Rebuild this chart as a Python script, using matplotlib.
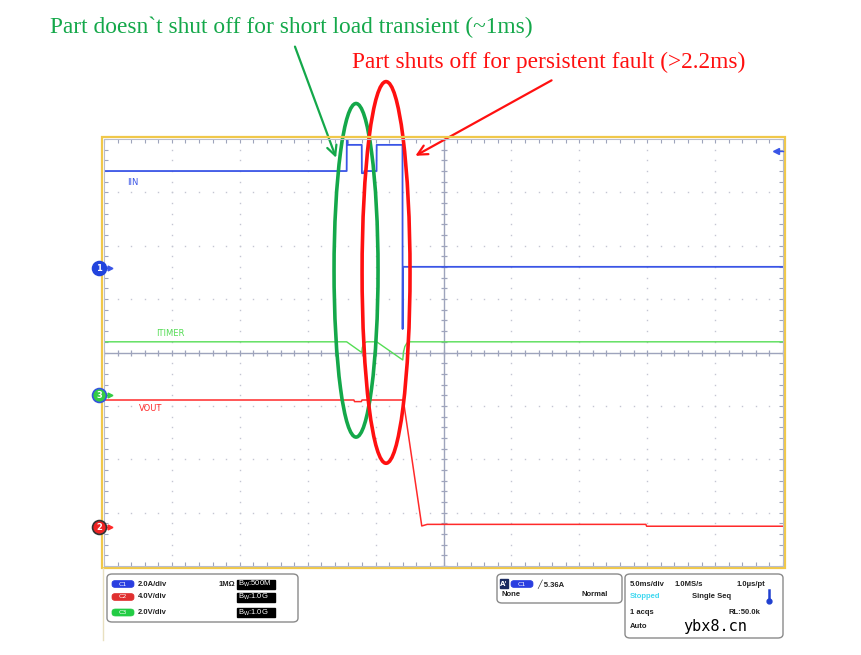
import numpy as np
import matplotlib
matplotlib.use("Agg")
import matplotlib.pyplot as plt
from matplotlib.patches import Ellipse, FancyBboxPatch, Rectangle
import matplotlib.transforms as mtrans

# scope traces (time in ms, 5 ms/div, screen centre = 0)
t_iin = [-25, -7.13, -7.12, -7.05, -6.95, -6.02, -6.01, -5.85, -5.83, -4.93, -4.92, -3.02, -3.01, -2.99, 25]
iin = [3.64, 3.64, 4.80, 4.62, 4.62, 4.62, 3.56, 3.56, 3.64, 3.64, 4.62, 4.62, -2.28, 0.05, 0.05]

t_timer = [-25, -7.13, -6.02, -5.98, -5.9, -5.8, -5.65, -4.92, -3.0, -2.95, -2.85, -2.7, -2.5, 25]
itimer = [2.0, 2.0, 1.6, 1.78, 1.9, 1.97, 2.0, 2.0, 1.32, 1.6, 1.82, 1.95, 2.0, 2.0]

t_vout = [-25, -6.6, -6.55, -6.05, -6.0, -2.96, -1.6, -1.2, 14.9, 14.96, 25]
vout = [9.52, 9.52, 9.4, 9.4, 9.52, 9.52, 0.08, 0.2, 0.2, 0.06, 0.06]

# channel settings: (units per div, zero position in div)
ch1 = (2.0, 1.58)   # IIN, A
ch2 = (4.0, -3.27)  # VOUT, V
ch3 = (2.0, -0.80)  # ITIMER, V

W, H = 861, 655
def fx(p):
    return p / W
def fy(p):
    return 1 - p / H

fig = plt.figure(figsize=(8.61, 6.55), dpi=100)
fig.patch.set_facecolor("white")
ax = fig.add_axes([fx(104), fy(566), (783 - 104) / W, (566 - 139) / H])
ax.set_xlim(-25, 25)
ax.set_ylim(-4, 4)
for s in ax.spines.values():
    s.set_visible(False)

gcol = "#c4c6d2"
ax.set_xticks(np.arange(-25, 26, 5))
ax.set_xticks(np.arange(-25, 26, 1), minor=True)
ax.set_yticks(np.arange(-4, 5, 1))
ax.set_yticks(np.arange(-4, 4.01, 0.2), minor=True)
ax.tick_params(which="both", direction="in", top=True, right=True, length=3,
               color="#9ea4bc", width=0.8, labelbottom=False, labelleft=False)

# dotted graticule
for xv in range(-20, 25, 5):
    if xv == 0:
        continue
    yy = np.arange(-4, 4.01, 0.2)
    ax.plot(np.full_like(yy, xv), yy, ls="none", marker="s", ms=1.0, color=gcol, mew=0)
for yv in range(-3, 4):
    if yv == 0:
        continue
    xx = np.arange(-25, 25.01, 1)
    ax.plot(xx, np.full_like(xx, yv), ls="none", marker="s", ms=1.0, color=gcol, mew=0)

# centre cross with minor ticks
ccol = "#9ea4bc"
ax.axhline(0, color=ccol, lw=1.0, zorder=1)
ax.axvline(0, color=ccol, lw=1.0, zorder=1)
xx = np.arange(-25, 25.01, 1)
ax.plot(xx, np.zeros_like(xx), ls="none", marker="|", ms=5, color=ccol, mew=0.9)
yy = np.arange(-4, 4.01, 0.2)
ax.plot(np.zeros_like(yy), yy, ls="none", marker="_", ms=5, color=ccol, mew=0.9)

# frame
fig.add_artist(Rectangle((fx(102), fy(568)), (785 - 102) / W, (568 - 137) / H,
                         transform=fig.transFigure, fill=False, ec="#f0c84a", lw=1.6))
fig.add_artist(Rectangle((fx(104), fy(566)), (783 - 104) / W, (566 - 139) / H,
                         transform=fig.transFigure, fill=False, ec="#b8bccc", lw=0.8))

# traces
blue, red, green = "#3a55e6", "#ff2a2a", "#55dd55"
ax.plot(t_iin, ch1[1] + np.array(iin) / ch1[0], color=blue, lw=1.3, zorder=4)
ax.plot(t_timer, ch3[1] + np.array(itimer) / ch3[0], color=green, lw=1.0, zorder=3)
ax.plot(t_vout, ch2[1] + np.array(vout) / ch2[0], color=red, lw=1.1, zorder=3)

ax.text(-22.86, 3.19, "IIN", color=blue, fontsize=6, ha="center", va="center")
ax.text(-20.13, 0.36, "ITIMER", color=green, fontsize=6, ha="center", va="center")
ax.text(-21.6, -1.04, "VOUT", color=red, fontsize=6, ha="center", va="center")

# channel markers on the left edge (drawn above the frame)
bt = mtrans.blended_transform_factory(fig.transFigure, ax.transData)
markers = [("1", ch1[1], "#2244dd", "#2244dd", blue),
           ("3", ch3[1], "#33cc44", "#3355dd", "#33cc44"),
           ("2", ch2[1], "#ee2222", "#333333", red)]
for lab, yv, fc, ec, ac in markers:
    fig.add_artist(plt.Line2D([fx(106), fx(110)], [yv, yv], color=ac, lw=1,
                              transform=bt, zorder=4))
    fig.add_artist(plt.Line2D([fx(110)], [yv], marker=">", ms=3.5, color=ac,
                              transform=bt, zorder=4))
    fig.add_artist(plt.Line2D([fx(99)], [yv], marker="o", ms=10, mfc=fc, mec=ec, mew=1.2,
                              transform=bt, zorder=5))
    fig.text(fx(99), yv, lab, color="white", fontsize=6, fontweight="bold",
             ha="center", va="center", transform=bt, zorder=6)

# trigger level marker
fig.add_artist(plt.Line2D([fx(775), fx(783)], [fy(151), fy(151)], color=blue, lw=1))
fig.add_artist(plt.Line2D([fx(776)], [fy(151)], marker="<", ms=4, color=blue))

# annotations
ax.add_patch(Ellipse((-6.44, 1.54), 3.24, 6.25, fill=False, ec="#14a84a", lw=2.6,
                     clip_on=False, zorder=8))
ax.add_patch(Ellipse((-4.23, 1.50), 3.53, 7.15, fill=False, ec="#ff1010", lw=2.6,
                     clip_on=False, zorder=8))
fig.text(fx(50), fy(27), "Part doesn`t shut off for short load transient (~1ms)",
         color="#14a84a", fontsize=16.8, family="Liberation Serif", ha="left", va="center")
fig.text(fx(352), fy(62), "Part shuts off for persistent fault (>2.2ms)",
         color="#ff1010", fontsize=16.8, family="Liberation Serif", ha="left", va="center")
ax.annotate("", xy=(-7.84, 3.60), xycoords="data", xytext=(fx(294), fy(44)),
            textcoords="figure fraction",
            arrowprops=dict(arrowstyle="->,head_length=0.7,head_width=0.35",
                            color="#14a84a", lw=1.6), zorder=9, annotation_clip=False)
ax.annotate("", xy=(-2.25, 3.66), xycoords="data", xytext=(fx(554), fy(79)),
            textcoords="figure fraction",
            arrowprops=dict(arrowstyle="->,head_length=0.7,head_width=0.35",
                            color="#ff1010", lw=1.6), zorder=9, annotation_clip=False)

# bottom status panels
def panel(x0, y0, x1, y1):
    fig.add_artist(FancyBboxPatch((fx(x0), fy(y1)), (x1 - x0) / W, (y1 - y0) / H,
                                  boxstyle="round,pad=0,rounding_size=0.006",
                                  transform=fig.transFigure, fc="white", ec="#8a8a8a", lw=1.0))

def pill(x0, x1, yc, col, lab):
    fig.add_artist(FancyBboxPatch((fx(x0), fy(yc + 3.5)), (x1 - x0) / W, 7 / H,
                                  boxstyle="round,pad=0,rounding_size=0.004",
                                  transform=fig.transFigure, fc=col, ec=col, lw=0.5))
    fig.text(fx((x0 + x1) / 2), fy(yc), lab, color="white", fontsize=4.5,
             ha="center", va="center")

def txt(x, y, s, ha="left", color="#222222", size=5.5):
    fig.text(fx(x), fy(y), s, fontsize=size, fontweight="bold", color=color,
             ha=ha, va="center", family=["Liberation Sans", "DejaVu Sans"])

def blackbox(x0, x1, yc, s):
    fig.add_artist(Rectangle((fx(x0), fy(yc + 4.5)), (x1 - x0) / W, 9 / H,
                             transform=fig.transFigure, fc="black", ec="black"))
    fig.text(fx(x0 + 1), fy(yc), s, fontsize=5.5, color="white", ha="left",
             va="center", family="Liberation Sans")

fig.add_artist(plt.Line2D([fx(103), fx(103)], [fy(568), fy(640)], color="#e8e0c0", lw=1))

panel(107, 574, 298, 622)
pill(112, 134, 584, "#2a3ee0", "C1")
pill(112, 134, 597, "#e03030", "C2")
pill(112, 134, 612.5, "#22cc44", "C3")
txt(138, 584, "2.0A/div")
txt(138, 597, "4.0V/div")
txt(138, 612.5, "2.0V/div")
txt(235, 584, "1M\u03a9", ha="right")
blackbox(237, 275, 584, r"B$_\mathregular{W}$:500M")
blackbox(237, 275, 597, r"B$_\mathregular{W}$:1.0G")
blackbox(237, 275, 612.5, r"B$_\mathregular{W}$:1.0G")

panel(497, 574, 622, 603)
fig.add_artist(Rectangle((fx(500), fy(588)), 8 / W, 9 / H, transform=fig.transFigure,
                         fc="#1a2a60", ec="#1a2a60"))
fig.text(fx(504), fy(583.5), "A'", fontsize=5, color="white", ha="center", va="center",
         fontweight="bold")
pill(511, 533, 584, "#2a3ee0", "C1")
txt(537, 584, "\u2571 5.36A")
txt(501, 595, "None")
txt(608, 595, "Normal", ha="right")

panel(625, 574, 783, 638)
txt(630, 584, "5.0ms/div")
txt(675, 584, "1.0MS/s")
txt(765, 584, "1.0\u00b5s/pt", ha="right")
txt(630, 597, "Stopped", color="#40d8f0")
txt(692, 597, "Single Seq")
fig.add_artist(plt.Line2D([fx(769), fx(769)], [fy(590), fy(601)], color="#2040d0", lw=1.8))
fig.add_artist(plt.Line2D([fx(769)], [fy(601)], marker="o", ms=3.5, color="#2040d0"))
txt(630, 612, "1 acqs")
txt(760, 612, "RL:50.0k", ha="right")
txt(630, 626, "Auto")
fig.text(fx(683), fy(626), "ybx8.cn", fontsize=11, family="DejaVu Sans Mono",
         color="black", ha="left", va="center")

fig.savefig("out.png", dpi=100)
